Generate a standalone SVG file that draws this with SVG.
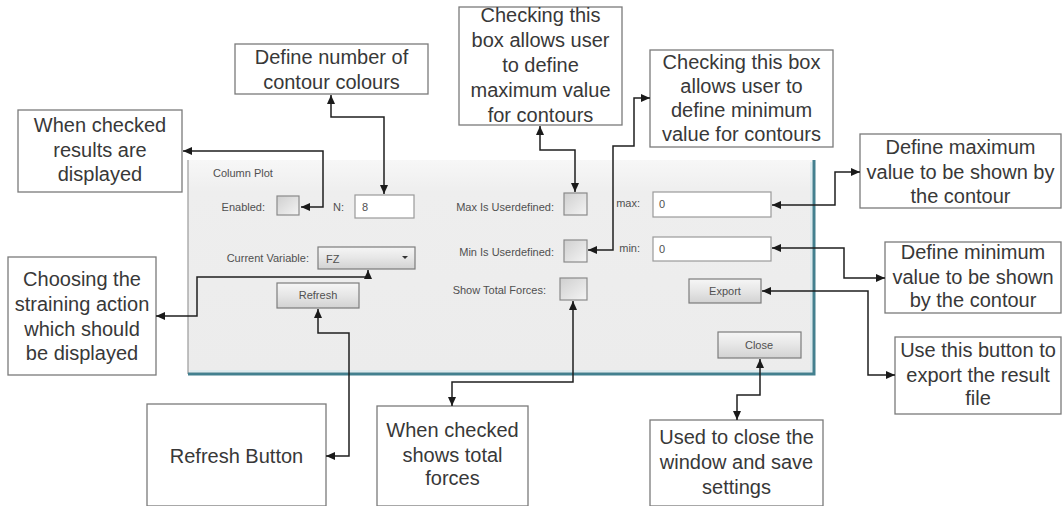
<svg xmlns="http://www.w3.org/2000/svg" width="1063" height="506" viewBox="0 0 1063 506">
<defs>
  <linearGradient id="dlg" x1="0" y1="0" x2="0" y2="1">
    <stop offset="0" stop-color="#f7f7f7"/>
    <stop offset="0.15" stop-color="#eeeeee"/>
    <stop offset="1" stop-color="#ececec"/>
  </linearGradient>
  <linearGradient id="btn" x1="0" y1="0" x2="0" y2="1">
    <stop offset="0" stop-color="#f6f6f6"/>
    <stop offset="0.5" stop-color="#e6e6e6"/>
    <stop offset="1" stop-color="#d2d2d2"/>
  </linearGradient>
  <linearGradient id="chk" x1="0" y1="0" x2="1" y2="1">
    <stop offset="0" stop-color="#cfcfcf"/>
    <stop offset="1" stop-color="#f4f4f4"/>
  </linearGradient>
  <marker id="arr" viewBox="0 0 9 8" refX="9" refY="4" markerWidth="9" markerHeight="8" markerUnits="userSpaceOnUse" orient="auto-start-reverse">
    <path d="M0,0 L9,4 L0,8 z" fill="#1a1a1a"/>
  </marker>
  <style>
    .box{fill:#fff;stroke:#7a7a7a;stroke-width:1.3}
    .lbl{font-family:"Liberation Sans",Arial,sans-serif;font-size:20px;fill:#383838;text-anchor:middle}
    .ui{font-family:"Liberation Sans",Arial,sans-serif;font-size:11px;fill:#505050}
    .uie{font-family:"Liberation Sans",Arial,sans-serif;font-size:11px;fill:#505050;text-anchor:end}
    .uic{font-family:"Liberation Sans",Arial,sans-serif;font-size:11px;fill:#505050;text-anchor:middle}
    .tb{fill:#fff;stroke:#9a9a9a;stroke-width:1.2}
    .cb{fill:url(#chk);stroke:#8a8a8a;stroke-width:1.2}
    .bt{fill:url(#btn);stroke:#7c7c7c;stroke-width:1.2}
    .con{fill:none;stroke:#1f1f1f;stroke-width:1.5;marker-start:url(#arr);marker-end:url(#arr)}
  </style>
</defs>
<rect width="1063" height="506" fill="#fff"/>

<g id="dialog">
  <rect x="188" y="160" width="626" height="214" fill="url(#dlg)"/>
  <line x1="188" y1="160" x2="188" y2="374" stroke="#9a9a9a" stroke-width="1.2"/>
  <path d="M814,160 V374 H188" fill="none" stroke="#43808f" stroke-width="3"/>
  <path d="M811,162 V371 H190" fill="none" stroke="#cfe8ee" stroke-width="1.2"/>
  <text class="ui" x="213" y="177">Column Plot</text>
  <text class="uie" x="265" y="211">Enabled:</text>
  <rect class="cb" x="277" y="196" width="22" height="19"/>
  <text class="ui" x="333" y="211">N:</text>
  <rect class="tb" x="355" y="195" width="59" height="23"/>
  <text class="ui" x="362" y="211">8</text>
  <text class="uie" x="309" y="262">Current Variable:</text>
  <rect class="bt" x="318" y="247" width="97" height="22"/>
  <text class="ui" x="326" y="263" font-size="12">FZ</text>
  <path d="M402,256 h6 l-3,3 z" fill="#333"/>
  <rect class="bt" x="277" y="283" width="82" height="25"/>
  <text class="uic" x="318" y="299">Refresh</text>
  <text class="uie" x="554" y="211">Max Is Userdefined:</text>
  <rect class="cb" x="564" y="193" width="23" height="22"/>
  <text class="uie" x="640" y="207">max:</text>
  <rect class="tb" x="653" y="192" width="118" height="25"/>
  <text class="ui" x="659" y="208">0</text>
  <text class="uie" x="554" y="256">Min Is Userdefined:</text>
  <rect class="cb" x="564" y="240" width="23" height="22"/>
  <text class="uie" x="640" y="252">min:</text>
  <rect class="tb" x="653" y="237" width="118" height="24"/>
  <text class="ui" x="659" y="253">0</text>
  <text class="uie" x="546" y="294">Show Total Forces:</text>
  <rect class="cb" x="560" y="278" width="27" height="22"/>
  <rect class="bt" x="689" y="279" width="72" height="24"/>
  <text class="uic" x="725" y="295">Export</text>
  <rect class="bt" x="718" y="332" width="83" height="26"/>
  <text class="uic" x="759" y="349">Close</text>
</g>

<g id="n-enabled">
  <rect class="box" x="18" y="110" width="164" height="82"/>
  <text class="lbl" x="100" y="132">When checked</text>
  <text class="lbl" x="100" y="157">results are</text>
  <text class="lbl" x="100" y="181">displayed</text>
</g>
<g id="n-colours">
  <rect class="box" x="235" y="44" width="193" height="50"/>
  <text class="lbl" x="331.5" y="64">Define number of</text>
  <text class="lbl" x="331.5" y="89">contour colours</text>
</g>
<g id="n-maxdef">
  <rect class="box" x="459" y="7" width="163" height="118"/>
  <text class="lbl" x="540.5" y="22">Checking this</text>
  <text class="lbl" x="540.5" y="47">box allows user</text>
  <text class="lbl" x="540.5" y="72">to define</text>
  <text class="lbl" x="540.5" y="97">maximum value</text>
  <text class="lbl" x="540.5" y="122">for contours</text>
</g>
<g id="n-mindef">
  <rect class="box" x="650" y="50" width="183" height="97"/>
  <text class="lbl" x="741.5" y="69">Checking this box</text>
  <text class="lbl" x="741.5" y="93">allows user to</text>
  <text class="lbl" x="741.5" y="117">define minimum</text>
  <text class="lbl" x="741.5" y="141">value for contours</text>
</g>
<g id="n-maxval">
  <rect class="box" x="860" y="134" width="201" height="74"/>
  <text class="lbl" x="960.5" y="154">Define maximum</text>
  <text class="lbl" x="960.5" y="179">value to be shown by</text>
  <text class="lbl" x="960.5" y="203">the contour</text>
</g>
<g id="n-minval">
  <rect class="box" x="885" y="242" width="176" height="71"/>
  <text class="lbl" x="973" y="259">Define minimum</text>
  <text class="lbl" x="973" y="284">value to be shown</text>
  <text class="lbl" x="973" y="307">by the contour</text>
</g>
<g id="n-export">
  <rect class="box" x="895" y="337" width="166" height="77"/>
  <text class="lbl" x="978" y="357">Use this button to</text>
  <text class="lbl" x="978" y="382">export the result</text>
  <text class="lbl" x="978" y="405">file</text>
</g>
<g id="n-close">
  <rect class="box" x="650" y="420" width="173" height="86"/>
  <text class="lbl" x="736.5" y="444">Used to close the</text>
  <text class="lbl" x="736.5" y="469">window and save</text>
  <text class="lbl" x="736.5" y="494">settings</text>
</g>
<g id="n-total">
  <rect class="box" x="377" y="406" width="151" height="100"/>
  <text class="lbl" x="452.5" y="437">When checked</text>
  <text class="lbl" x="452.5" y="462">shows total</text>
  <text class="lbl" x="452.5" y="485">forces</text>
</g>
<g id="n-refresh">
  <rect class="box" x="147" y="404" width="179" height="102"/>
  <text class="lbl" x="236.5" y="463">Refresh Button</text>
</g>
<g id="n-variable">
  <rect class="box" x="8" y="257" width="148" height="118"/>
  <text class="lbl" x="82" y="286">Choosing the</text>
  <text class="lbl" x="82" y="311">straining action</text>
  <text class="lbl" x="82" y="336">which should</text>
  <text class="lbl" x="82" y="360">be displayed</text>
</g>

<g id="connectors">
  <path class="con" d="M301,207 H323 V151 H183"/>
  <path class="con" d="M384,194 V117 H331 V95"/>
  <path class="con" d="M575,192 V150 H540 V126"/>
  <path class="con" d="M588,250 H613 V146 H634 V98 H650"/>
  <path class="con" d="M772,205 H835 V172 H860"/>
  <path class="con" d="M772,248 H844 V278 H885"/>
  <path class="con" d="M762,291 H868 V375 H895"/>
  <path class="con" d="M760,359 V395 H737 V420"/>
  <path class="con" d="M573,301 V382 H452 V406"/>
  <path class="con" d="M318,309 V333 H349 V456 H326"/>
  <path class="con" d="M368,270 V277 H197 V316 H156"/>
</g>
</svg>
